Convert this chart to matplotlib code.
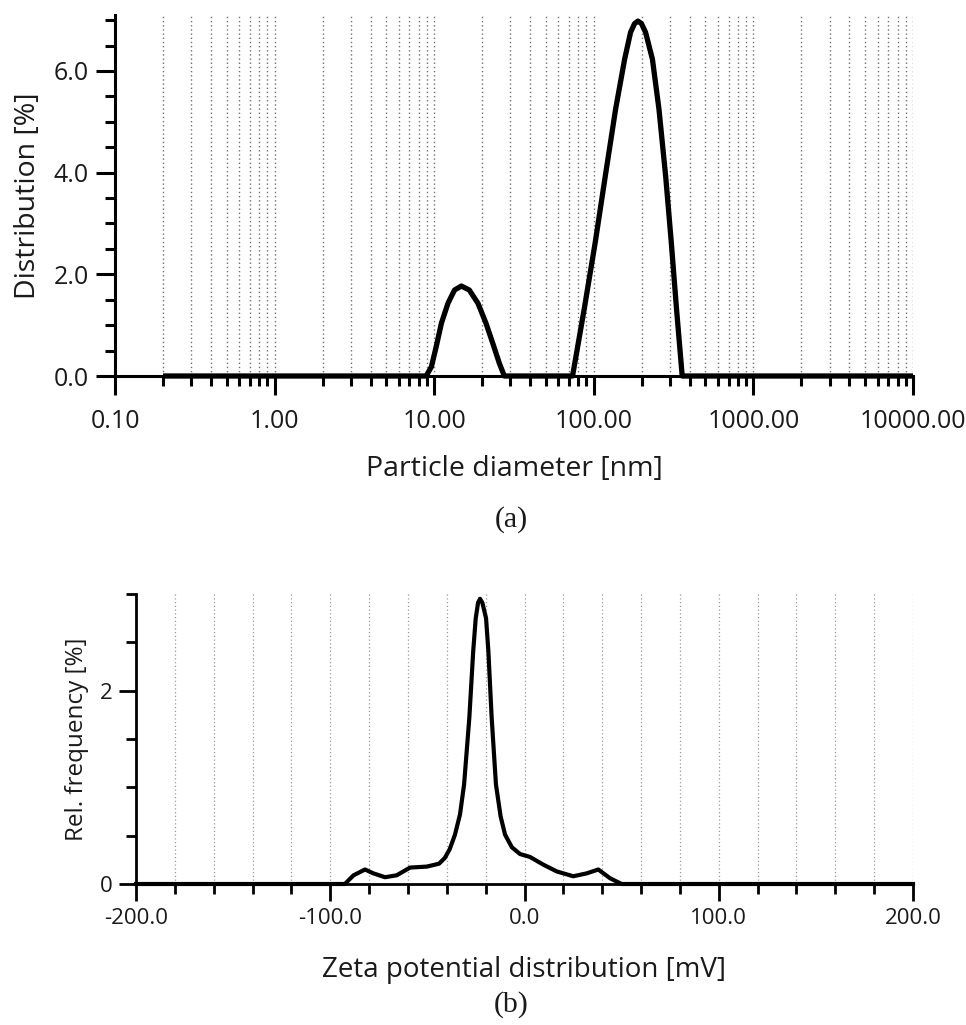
import matplotlib
matplotlib.use("Agg")
import matplotlib.pyplot as plt
from matplotlib.ticker import LogLocator, FixedLocator, FuncFormatter, MultipleLocator

# ---- data: particle size distribution ----
size_nm = [0.2, 8.9, 9.6, 10.3, 11.1, 12.2, 13.4, 14.8, 16.6, 18.8, 21.1, 23.3, 25.6, 27.5,
           73.6, 87, 102, 118, 137, 156, 170, 180, 189, 199, 211, 233, 256, 282, 306, 330, 358,
           10000]
dist_pct = [0, 0, 0.18, 0.58, 1.04, 1.43, 1.69, 1.77, 1.69, 1.43, 1.04, 0.64, 0.25, 0,
            0, 1.31, 2.62, 3.93, 5.25, 6.23, 6.76, 6.93, 6.98, 6.93, 6.76, 6.23, 5.25, 3.93,
            2.62, 1.31, 0, 0]

# ---- data: zeta potential distribution ----
zeta_mv = [-200, -92.5, -88, -82.1, -77.8, -71.8, -65.8, -58.9, -50.3, -44, -41, -38.5, -35.8,
           -33.2, -31.1, -28.4, -26.4, -25.1, -23.9, -22.9, -21.7, -19.8, -18.6, -16.9, -14.7,
           -12.3, -10, -6.5, -2.3, 2.8, 9.7, 16.6, 25.1, 32, 38, 44, 50, 200]
rel_freq = [0, 0, 0.09, 0.15, 0.11, 0.07, 0.09, 0.17, 0.18, 0.21, 0.27, 0.36, 0.51,
            0.72, 1.03, 1.72, 2.41, 2.75, 2.91, 2.95, 2.91, 2.75, 2.41, 1.72, 1.03,
            0.70, 0.51, 0.38, 0.31, 0.28, 0.20, 0.13, 0.08, 0.11, 0.15, 0.06, 0, 0]

size_ticks = [0.1, 1, 10, 100, 1000, 10000]
zeta_ticks = [-200, -100, 0, 100, 200]

FONT = "Open Sans"
TXT = "#1a1a1a"

fig = plt.figure(figsize=(9.66, 10.25), dpi=100)

# ---------------- (a) ----------------
ax1 = fig.add_axes([115/966, 1-376/1025, (913-115)/966, (376-15)/1025])
ax1.plot(size_nm, dist_pct, color="black", lw=3.8, solid_joinstyle="round",
         solid_capstyle="butt", zorder=3, clip_on=False)
ax1.set_xscale("log")
ax1.set_xlim(0.1, 10000)
ax1.set_ylim(0, 7.1)
ax1.xaxis.set_major_locator(FixedLocator(size_ticks))
ax1.xaxis.set_minor_locator(LogLocator(base=10, subs=range(2, 10), numticks=20))
ax1.xaxis.set_major_formatter(FuncFormatter(lambda v, p: f"{v:.2f}"))
ax1.yaxis.set_major_locator(MultipleLocator(2.0))
ax1.yaxis.set_minor_locator(MultipleLocator(0.5))
ax1.yaxis.set_major_formatter(FuncFormatter(lambda v, p: f"{v:.1f}"))
for s in ["top", "right"]:
    ax1.spines[s].set_visible(False)
for s in ["left", "bottom"]:
    ax1.spines[s].set_linewidth(2.2)
ax1.tick_params(which="major", length=14, width=2.2, direction="out", labelsize=18,
                labelcolor=TXT, pad=10)
ax1.tick_params(axis="y", which="major", pad=5)
ax1.tick_params(which="minor", length=7, width=2.2, direction="out")
ax1.grid(True, which="both", axis="x", color="#707070", lw=1.0, linestyle=(0, (1, 2.0)))
ax1.set_axisbelow(True)
ax1.set_xlabel("Particle diameter [nm]", fontsize=20.5, color=TXT, labelpad=15)
ax1.set_ylabel("Distribution [%]", fontsize=20.5, color=TXT, labelpad=8)
for lab in ax1.get_xticklabels() + ax1.get_yticklabels():
    lab.set_family(FONT)
ax1.xaxis.label.set_family(FONT)
ax1.yaxis.label.set_family(FONT)

fig.text(511/966, 1-520/1025, "(a)", ha="center", va="center", fontsize=21.5,
         family="Liberation Serif", color=TXT)

# ---------------- (b) ----------------
ax2 = fig.add_axes([136/966, 1-884/1025, (913-136)/966, (884-594)/1025])
ax2.plot(zeta_mv, rel_freq, color="black", lw=3.0, solid_joinstyle="round", zorder=3,
         clip_on=False)
ax2.set_xlim(-200, 200)
ax2.set_ylim(0, 3.0)
ax2.xaxis.set_major_locator(FixedLocator(zeta_ticks))
ax2.xaxis.set_minor_locator(MultipleLocator(20))
ax2.xaxis.set_major_formatter(FuncFormatter(lambda v, p: f"{v:.1f}"))
ax2.yaxis.set_major_locator(FixedLocator([0, 2]))
ax2.yaxis.set_minor_locator(FixedLocator([0.5, 1.0, 1.5, 2.5, 3.0]))
ax2.yaxis.set_major_formatter(FuncFormatter(lambda v, p: f"{v:.0f}"))
for s in ["top", "right"]:
    ax2.spines[s].set_visible(False)
for s in ["left", "bottom"]:
    ax2.spines[s].set_linewidth(2.0)
ax2.tick_params(which="major", length=12, width=2.0, direction="out", labelsize=16,
                labelcolor=TXT, pad=5)
ax2.tick_params(which="minor", length=7, width=2.0, direction="out")
ax2.grid(True, which="both", axis="x", color="#999999", lw=0.9, linestyle=(0, (1, 2.0)))
ax2.set_axisbelow(True)
ax2.set_xlabel("Zeta potential distribution [mV]", fontsize=20, color=TXT, labelpad=20)
ax2.set_ylabel("Rel. frequency [%]", fontsize=17.5, color=TXT, labelpad=8)
for lab in ax2.get_xticklabels() + ax2.get_yticklabels():
    lab.set_family(FONT)
ax2.xaxis.label.set_family(FONT)
ax2.yaxis.label.set_family(FONT)

fig.text(511/966, 1-1005/1025, "(b)", ha="center", va="center", fontsize=21.5,
         family="Liberation Serif", color=TXT)

fig.savefig("out.png", dpi=100, facecolor="white")
